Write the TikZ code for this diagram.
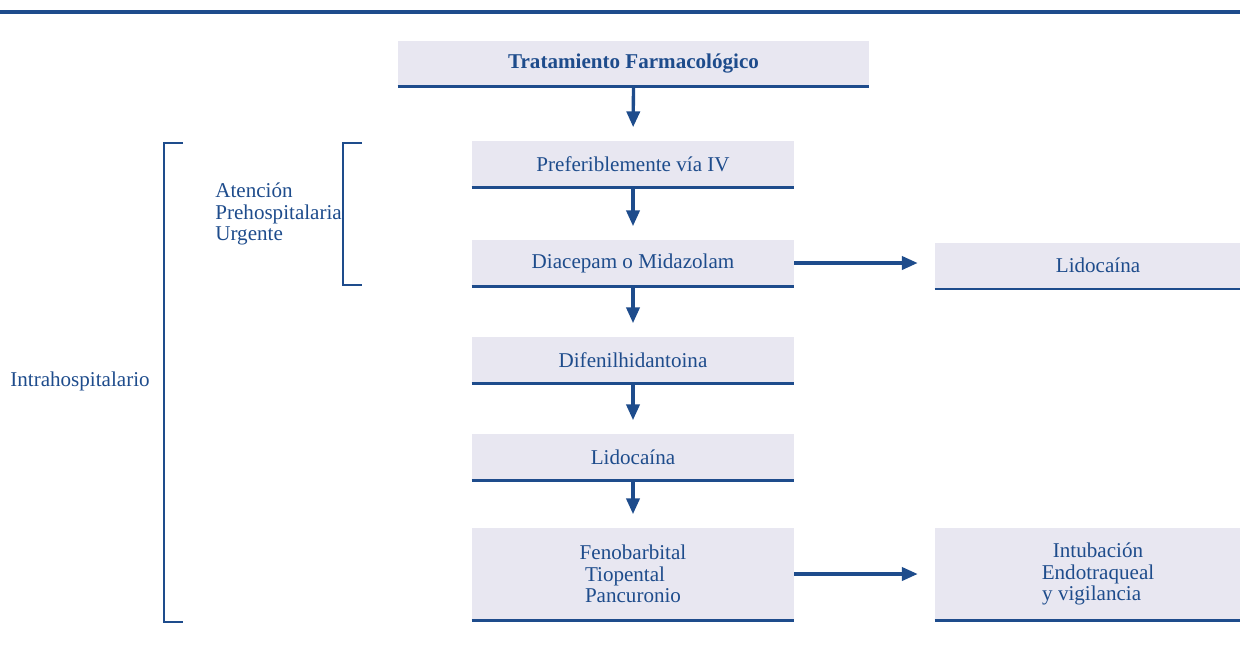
\documentclass[tikz,border=0pt]{standalone}
\usepackage{fontspec}
\setmainfont{Liberation Serif}
\usepackage{tikz}
\usetikzlibrary{arrows.meta,positioning,calc}
\definecolor{fcblue}{RGB}{30,76,140}
\definecolor{fclav}{RGB}{232,231,241}
\begin{document}
\begin{tikzpicture}[
  x=0.02cm, y=-0.02cm,
  >={Triangle[length=9pt,width=7.5pt]},
  font=\fontsize{12}{12.3}\selectfont,
  text=fcblue,
  drug/.style={fill=fclav, inner sep=0pt, align=center,
               minimum width=6.44cm, minimum height=0.92cm},
  side/.style={drug, minimum width=6.52cm},
  boxline/.style={draw=fcblue, line width=1.5pt},
  flow/.style={->, draw=fcblue, line width=1.9pt, shorten >=0.27cm},
  across/.style={flow, shorten >=0.34cm},
  bracket/.style={draw=fcblue, line width=1.5pt}
]
\useasboundingbox (0,0) rectangle (1240,650);
\draw[draw=fcblue, line width=1.8pt] (0,12) -- (1240,12);

\node[drug, minimum width=9.42cm, minimum height=0.9cm, font=\fontsize{12}{12.3}\selectfont\bfseries]
  (title) at (633.5,63.5) {Tratamiento Farmacológico};
\node[drug] (viaiv) at (633,164) {Preferiblemente vía IV};
\node[drug] (diacepam) at (633,263) {Diacepam o Midazolam};
\node[drug] (difenil) at (633,360) {Difenilhidantoina};
\node[drug] (lidoc) at (633,457) {Lidocaína};
\node[drug, minimum height=1.84cm, align=left] (fenob) at (633,574)
  {Fenobarbital\\\hspace*{0.25em}Tiopental\\\hspace*{0.25em}Pancuronio};
\node[side] (lidocR) at (1098,265.5) {Lidocaína};
\node[side, minimum height=1.84cm] (intub) at (1098,574)
  {Intubación\\Endotraqueal\\y vigilancia\hspace*{0.6em}};

\foreach \n in {title,viaiv,diacepam,difenil,lidoc,fenob,lidocR,intub}
  \draw[boxline] (\n.south west) -- (\n.south east);

\draw[flow] (title.south) -- (viaiv.north);
\draw[flow] (viaiv.south) -- (diacepam.north);
\draw[flow] (diacepam.south) -- (difenil.north);
\draw[flow] (difenil.south) -- (lidoc.north);
\draw[flow] (lidoc.south) -- (fenob.north);
\draw[across] (diacepam.east) -- (diacepam.east -| lidocR.west);
\draw[across] (fenob.east) -- (fenob.east -| intub.west);

% brackets
\draw[bracket] (183,143) -| (164,622) -- (183,622);
\draw[bracket] (362,143) -| (343,285) -- (362,285);
\node[anchor=west, align=left, inner sep=0pt] (aph) at (215,214)
  {Atención\\Prehospitalaria\\Urgente};
\node[anchor=west, inner sep=0pt] (intra) at (10,381) {Intrahospitalario};
\end{tikzpicture}
\end{document}
